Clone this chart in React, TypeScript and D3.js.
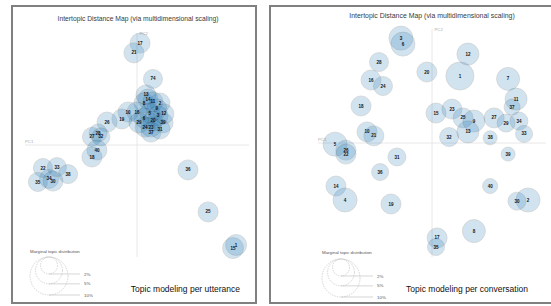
import React from "react";
import * as d3 from "d3";

// --- data: topic id, PC1, PC2, marginal topic share (%) ---
// per utterance
const uttTopics = ["17", "21", "74", "13", "14", "8", "11", "2", "9", "3", "6", "20", "39", "24", "23", "37", "10", "16", "19", "26", "28", "27", "32", "40", "18", "22", "33", "38", "35", "34", "30", "36", "25", "15", "1", "5", "12", "29", "31"];
const uttPC1 = [0.011, -0.011, 0.057, 0.032, 0.039, 0.025, 0.057, 0.082, 0.071, 0.075, 0.025, 0.057, 0.093, 0.029, 0.05, 0.05, -0.032, 0.0, -0.054, -0.107, -0.139, -0.161, -0.129, -0.143, -0.161, -0.336, -0.286, -0.246, -0.354, -0.314, -0.3, 0.182, 0.254, 0.343, 0.354, 0.046, 0.096, 0.007, 0.082];
const uttPC2 = [0.364, 0.329, 0.236, 0.179, 0.164, 0.15, 0.154, 0.15, 0.129, 0.104, 0.096, 0.086, 0.079, 0.064, 0.064, 0.046, 0.118, 0.118, 0.093, 0.082, 0.043, 0.029, 0.029, -0.018, -0.043, -0.082, -0.079, -0.104, -0.132, -0.121, -0.129, -0.089, -0.239, -0.368, -0.357, 0.114, 0.111, 0.079, 0.057];
const uttFreq = [2.77, 2.77, 2.5, 2.77, 2.77, 2.77, 2.77, 2.77, 2.77, 2.77, 2.77, 2.77, 2.77, 2.77, 2.77, 2.77, 2.77, 2.77, 2.77, 2.77, 2.24, 2.5, 2.24, 2.77, 2.77, 2.5, 2.5, 2.5, 2.5, 2.5, 2.77, 2.77, 2.77, 3.05, 3.05, 2.77, 2.77, 2.77, 2.77];

// per conversation
const convTopics = ["3", "6", "12", "28", "20", "1", "7", "16", "24", "18", "11", "37", "15", "23", "25", "9", "27", "29", "34", "13", "32", "38", "33", "10", "21", "5", "26", "22", "31", "39", "36", "14", "4", "19", "40", "30", "2", "8", "17", "35"];
const convPC1 = [-0.109, -0.102, 0.126, -0.186, -0.018, 0.098, 0.267, -0.214, -0.172, -0.249, 0.295, 0.281, 0.014, 0.07, 0.109, 0.147, 0.218, 0.26, 0.305, 0.126, 0.06, 0.204, 0.323, -0.228, -0.204, -0.34, -0.302, -0.302, -0.123, 0.267, -0.182, -0.337, -0.305, -0.144, 0.204, 0.298, 0.337, 0.147, 0.018, 0.014];
const convPC2 = [0.368, 0.347, 0.312, 0.284, 0.249, 0.235, 0.225, 0.221, 0.2, 0.13, 0.154, 0.126, 0.105, 0.119, 0.088, 0.077, 0.088, 0.07, 0.077, 0.039, 0.021, 0.018, 0.032, 0.039, 0.025, -0.004, -0.025, -0.039, -0.049, -0.039, -0.102, -0.151, -0.2, -0.214, -0.151, -0.204, -0.2, -0.309, -0.333, -0.365];
const convFreq = [3.99, 3.99, 3.35, 2.5, 2.77, 5.43, 3.66, 2.77, 2.5, 2.77, 3.35, 1.77, 2.77, 2.77, 2.77, 3.35, 2.77, 2.24, 2.24, 3.35, 2.5, 1.36, 2.0, 2.77, 2.77, 3.99, 2.77, 2.77, 2.24, 1.36, 2.0, 2.77, 3.99, 2.77, 1.56, 2.24, 3.99, 3.66, 2.77, 2.0];

const legendPct = [2, 5, 10];
const legendLabels = ["2%", "5%", "10%"];

const FONT = "Arial, 'Liberation Sans', sans-serif";
const rScale = d3.scaleSqrt().domain([0, 10]).range([0, 19]);

type Layout = {
  frame: [number, number, number, number];
  xr: [number, number];
  yr: [number, number];
  title: [number, number, number];
  caption: [number, number];
  legend: { tx: number; ty: number; cx: number; top: number; lineEnd: number };
};

const leftLayout: Layout = {
  frame: [12, 6, 244, 297],
  xr: [25, 249],
  yr: [257, 33],
  title: [138, 20.5, 6.75],
  caption: [240, 292],
  legend: { tx: 30, ty: 253, cx: 49, top: 257, lineEnd: 80 },
};

const rightLayout: Layout = {
  frame: [270, 6, 300, 297],
  xr: [318, 546],
  yr: [257, 29],
  title: [432, 17.5, 6.95],
  caption: [528, 292],
  legend: { tx: 322, ty: 254, cx: 341, top: 259, lineEnd: 373 },
};

function Panel({ topics, pc1, pc2, freq, layout, caption }: {
  topics: string[]; pc1: number[]; pc2: number[]; freq: number[]; layout: Layout; caption: string;
}) {
  const x = d3.scaleLinear().domain([-0.4, 0.4]).range(layout.xr);
  const y = d3.scaleLinear().domain([-0.4, 0.4]).range(layout.yr);
  const [fx, fy, fw, fh] = layout.frame;
  const lg = layout.legend;

  return (
    <g>
      <rect x={fx} y={fy} width={fw} height={fh} fill="#fff" stroke="#808080" strokeWidth={2} />
      <text x={layout.title[0]} y={layout.title[1]} textAnchor="middle" fontSize={layout.title[2]} fill="#3a3a3a" fontFamily={FONT}>
        Intertopic Distance Map (via multidimensional scaling)
      </text>

      {/* axes */}
      <line x1={x(-0.4)} x2={x(0.4)} y1={y(0)} y2={y(0)} stroke="#e2e2e2" strokeWidth={0.8} />
      <line x1={x(0)} x2={x(0)} y1={y(-0.4)} y2={y(0.4)} stroke="#e2e2e2" strokeWidth={0.8} />
      <text x={x(-0.4)} y={y(0) - 2.5} fontSize={4.3} fill="#aaa" fontFamily={FONT}>PC1</text>
      <text x={x(0) + 2.5} y={y(0.4) + 1.5} fontSize={4.3} fill="#aaa" fontFamily={FONT}>PC2</text>

      {/* topic circles */}
      {topics.map((t, i) => (
        <circle key={"c" + t} cx={x(pc1[i])} cy={y(pc2[i])} r={rScale(freq[i])}
          fill="#1f77b4" stroke="black" strokeWidth={0.6} opacity={0.2} />
      ))}
      {topics.map((t, i) => (
        <text key={"t" + t} x={x(pc1[i])} y={y(pc2[i])} dy="0.35em" textAnchor="middle"
          fontSize={4.5} fontWeight="bold" fill="#111" fontFamily={FONT}>{t}</text>
      ))}

      {/* legend */}
      <text x={lg.tx} y={lg.ty} fontSize={4.4} fill="#555" fontFamily={FONT}>Marginal topic distribution</text>
      {legendPct.map((p, i) => {
        const r = rScale(p);
        return (
          <g key={"l" + p}>
            <circle cx={lg.cx} cy={lg.top + r} r={r} fill="none" stroke="#bbb" strokeWidth={0.6} strokeDasharray="1.5,1" />
            <line x1={lg.cx} x2={lg.lineEnd} y1={lg.top + 2 * r} y2={lg.top + 2 * r} stroke="#bbb" strokeWidth={0.6} />
            <text x={lg.lineEnd + 4} y={lg.top + 2 * r + 1.6} fontSize={4.4} fill="#555" fontFamily={FONT}>{legendLabels[i]}</text>
          </g>
        );
      })}

      <text x={layout.caption[0]} y={layout.caption[1]} textAnchor="end" fontSize={8.5} fill="#111" fontFamily={FONT}>
        {caption}
      </text>
    </g>
  );
}

export default function App() {
  return (
    <svg width={551} height={306} style={{ position: "absolute", left: 0, top: 0, background: "#fff" }}>
      <Panel topics={uttTopics} pc1={uttPC1} pc2={uttPC2} freq={uttFreq} layout={leftLayout} caption="Topic modeling per utterance" />
      <Panel topics={convTopics} pc1={convPC1} pc2={convPC2} freq={convFreq} layout={rightLayout} caption="Topic modeling per conversation" />
    </svg>
  );
}
